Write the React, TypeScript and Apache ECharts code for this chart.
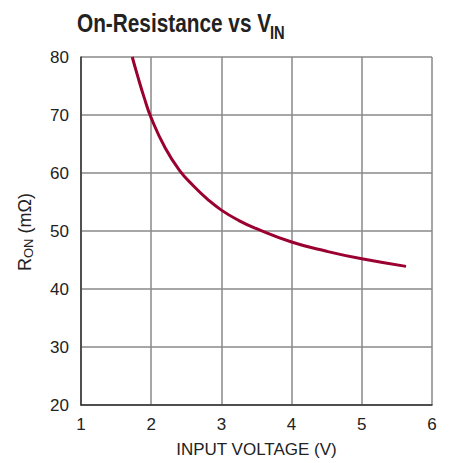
import React, { useEffect, useRef } from "react";
import * as echarts from "echarts";

const voltage = [1.73, 1.8, 1.9, 2.0, 2.2, 2.4, 2.6, 2.8, 3.0, 3.25, 3.5, 4.0, 4.5, 5.0, 5.63];
const resistance = [80, 77, 73, 69.5, 64.3, 60.5, 57.8, 55.5, 53.6, 51.8, 50.4, 48.1, 46.5, 45.2, 43.9];
const xTicks = [1, 2, 3, 4, 5, 6];
const yTicks = [20, 30, 40, 50, 60, 70, 80];

const FONT = "'Liberation Sans', Arial, sans-serif";

export default function App() {
  const ref = useRef<HTMLDivElement>(null);
  useEffect(() => {
    if (!ref.current) return;
    const chart = echarts.init(ref.current, undefined, { renderer: "svg" });
    chart.setOption({
      animation: false,
      backgroundColor: "#ffffff",
      grid: { left: 81, right: 19, top: 57, bottom: 55, containLabel: false },
      graphic: [
        {
          type: "text",
          x: 77,
          y: 10,
          scaleX: 0.8,
          style: {
            text: "On-Resistance vs V",
            font: `bold 26px ${FONT}`,
            fill: "#222",
          },
        },
        {
          type: "text",
          x: 270,
          y: 23,
          scaleX: 0.82,
          style: {
            text: "IN",
            font: `bold 18px ${FONT}`,
            fill: "#222",
          },
        },
        {
          type: "text",
          x: 25,
          y: 271,
          rotation: Math.PI / 2,
          style: {
            text: "{r|R}{s|ON}{r| (mΩ)}",
            align: "left",
            verticalAlign: "middle",
            rich: {
              r: { fontFamily: FONT, fontSize: 18, fill: "#222" },
              s: { fontFamily: FONT, fontSize: 13, fill: "#222", padding: [6, 0, 0, 0] },
            },
          },
        },
      ],
      xAxis: {
        type: "value",
        min: xTicks[0],
        max: xTicks[xTicks.length - 1],
        interval: 1,
        name: "INPUT VOLTAGE (V)",
        nameLocation: "middle",
        nameGap: 36,
        nameTextStyle: { fontFamily: FONT, fontSize: 17, color: "#222" },
        axisLine: { show: true, lineStyle: { color: "#333", width: 1.5 } },
        axisTick: { show: false },
        axisLabel: { fontFamily: FONT, fontSize: 17, color: "#222", margin: 11 },
        splitLine: { show: true, lineStyle: { color: "#888", width: 1.5 } },
      },
      yAxis: {
        type: "value",
        min: yTicks[0],
        max: yTicks[yTicks.length - 1],
        interval: 10,
        axisLine: { show: true, lineStyle: { color: "#333", width: 1.5 } },
        axisTick: { show: false },
        axisLabel: { fontFamily: FONT, fontSize: 17, color: "#222", margin: 12 },
        splitLine: { show: true, lineStyle: { color: "#888", width: 1.5 } },
      },
      series: [
        {
          type: "line",
          data: voltage.map((v, i) => [v, resistance[i]]),
          smooth: 0.5,
          showSymbol: false,
          symbol: "none",
          clip: true,
          lineStyle: { color: "#9a0030", width: 3 },
        },
      ],
    });
    return () => chart.dispose();
  }, []);
  return <div ref={ref} style={{ width: 451, height: 463, position: "absolute", left: 0, top: 0 }} />;
}
